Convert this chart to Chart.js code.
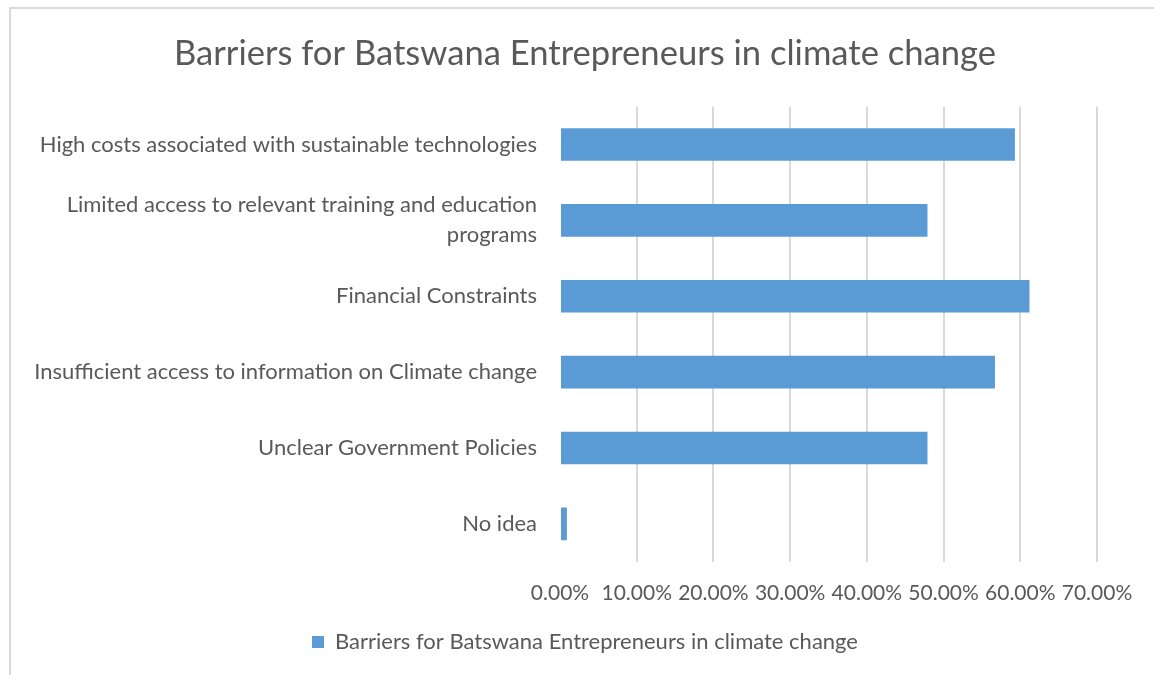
<!DOCTYPE html>
<html>
<head>
<meta charset="utf-8">
<script src="https://cdn.jsdelivr.net/npm/chart.js@4"></script>
<style>
  body { margin: 0; background: #fff; overflow: hidden; }
  #wrap { position: relative; width: 1154px; height: 675px; overflow: hidden; }
  #chart { position: absolute; left: 0; top: 0; }
  #frame {
    position: absolute; left: 9px; top: 7px; right: 0; bottom: 0;
    border-left: 2px solid #d9d9d9; border-top: 2px solid #d9d9d9;
    pointer-events: none;
  }
</style>
</head>
<body>
<div id="wrap">
  <canvas id="chart" width="1170" height="675"></canvas>
  <div id="frame"></div>
</div>
<script>
const seriesName = "Barriers for Batswana Entrepreneurs in climate change";

const barriers = [
    "High costs associated with sustainable technologies",
    ["Limited access to relevant training and education", "programs"],
    "Financial Constraints",
    "Insufficient access to information on Climate change",
    "Unclear Government Policies",
    "No idea"
];

// share of respondents, in percent
const shares = [59.3, 47.9, 61.2, 56.7, 47.9, 0.9];

const axisMax = 70;
const axisStep = 10;

const textColor = "#595959";
const barColor = "#5b9bd5";
const gridColor = "#d9d9d9";
const fontFamily = "Lato, 'Open Sans', sans-serif";

Chart.defaults.font.family = fontFamily;
Chart.defaults.color = textColor;

new Chart(document.getElementById("chart"), {
    type: "bar",
    data: {
        labels: barriers,
        datasets: [{
            label: seriesName,
            data: shares,
            backgroundColor: barColor,
            borderWidth: 0,
            barPercentage: 0.43,
            categoryPercentage: 1,
        }]
    },
    options: {
        indexAxis: "y",
        responsive: false,
        animation: false,
        layout: { padding: { left: 0, right: 0, top: 0, bottom: 12 } },
        plugins: {
            title: {
                display: true,
                text: seriesName,
                color: textColor,
                font: { size: 34.6, weight: "normal" },
                padding: { top: 33, bottom: 32 },
            },
            legend: {
                position: "bottom",
                labels: {
                    boxWidth: 12,
                    boxHeight: 12,
                    color: textColor,
                    font: { size: 22 },
                    padding: 10,
                }
            },
            tooltip: { enabled: false }
        },
        scales: {
            x: {
                min: 0,
                max: axisMax,
                border: { display: false },
                grid: {
                    drawTicks: false,
                    color: ctx => ctx.tick && ctx.tick.value === 0 ? "rgba(0,0,0,0)" : gridColor,
                    lineWidth: 2,
                },
                ticks: {
                    stepSize: axisStep,
                    padding: 19,
                    color: textColor,
                    font: { size: 21 },
                    callback: v => v.toFixed(2) + "%",
                },
                // leave room on the right so the plot ends at the 70% line,
                // and pull the legend a little closer to the tick labels
                afterFit: scale => {
                    scale.paddingRight = 73;
                    scale.height -= 4;
                }
            },
            y: {
                border: { display: false },
                grid: { display: false, drawTicks: false },
                ticks: {
                    padding: 23,
                    color: textColor,
                    font: { size: 22, lineHeight: 1.36 },
                },
                afterFit: scale => { scale.width = 560; }
            }
        }
    }
});
</script>
</body>
</html>
